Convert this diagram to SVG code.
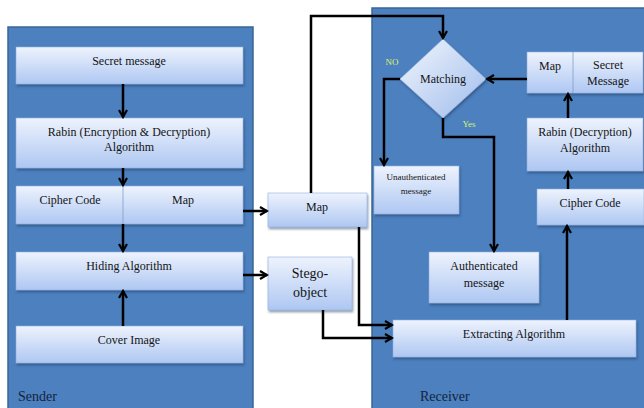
<svg xmlns="http://www.w3.org/2000/svg" width="644" height="408" viewBox="0 0 644 408" font-family="'Liberation Serif', 'Times New Roman', Times, serif">
<defs>
<linearGradient id="g" x1="0" y1="0" x2="0" y2="1">
<stop offset="0" stop-color="#eef3fd"/>
<stop offset="1" stop-color="#aec7f2"/>
</linearGradient>
<linearGradient id="gd" x1="0" y1="0" x2="1" y2="1">
<stop offset="0" stop-color="#f2f6fd"/>
<stop offset="1" stop-color="#9fbcec"/>
</linearGradient>
<filter id="sh" x="-10%" y="-10%" width="120%" height="130%">
<feDropShadow dx="1" dy="2" stdDeviation="1" flood-color="#1c3558" flood-opacity="0.5"/>
</filter>
<marker id="ah" markerWidth="10" markerHeight="10" refX="8" refY="5" orient="auto" markerUnits="userSpaceOnUse">
<polyline points="1,1 8,5 1,9" fill="none" stroke="#000" stroke-width="2.2"/>
</marker>
<style>
.panel{fill:#4c80bf;stroke:#3a6596;stroke-width:1.5}
.box{fill:url(#g);stroke:#8fb0dc;stroke-width:0.6;filter:url(#sh)}
.div{stroke:#7f9fcc;stroke-width:0.8}
text{font-size:12px;fill:#141414;text-anchor:middle}
.small{font-size:9px}
.lab{font-size:14px;text-anchor:start;fill:#15243a}
.yn{font-size:9px;fill:#d8f56a}
.c{fill:none;stroke:#000;stroke-width:2.5;marker-end:url(#ah)}
</style>
</defs>
<rect x="0" y="0" width="644" height="408" fill="#ffffff"/>
<g id="sender-panel">
<rect class="panel" x="8" y="27" width="245" height="390"/>
<text class="lab" x="18" y="401">Sender</text>
</g>
<g id="receiver-panel">
<rect class="panel" x="372" y="8" width="280" height="410"/>
<text class="lab" x="420" y="401">Receiver</text>
</g>
<g id="secret-message">
<rect class="box" x="16" y="47" width="227" height="37"/>
<text x="129" y="65">Secret message</text>
</g>
<g id="rabin-enc">
<rect class="box" x="16" y="118" width="227" height="50"/>
<text x="129" y="136">Rabin (Encryption &amp; Decryption)</text>
<text x="129" y="151">Algorithm</text>
</g>
<g id="cipher-map">
<rect class="box" x="16" y="186" width="227" height="38"/>
<line class="div" x1="123" y1="186" x2="123" y2="224"/>
<text x="70" y="204">Cipher Code</text>
<text x="183" y="204">Map</text>
</g>
<g id="hiding">
<rect class="box" x="16" y="252" width="227" height="38"/>
<text x="129" y="270">Hiding Algorithm</text>
</g>
<g id="cover">
<rect class="box" x="16" y="326" width="227" height="37"/>
<text x="129" y="344">Cover Image</text>
</g>
<g id="map-mid">
<rect class="box" x="268" y="193" width="99" height="34"/>
<text x="317" y="211">Map</text>
</g>
<g id="stego">
<rect class="box" x="268" y="257" width="84" height="53"/>
<text x="310" y="278" style="font-size:14px">Stego-</text>
<text x="310" y="297" style="font-size:14px">object</text>
</g>
<g id="matching">
<polygon points="443,39 486,79 443,118 400,79" fill="url(#gd)" stroke="#8fb0dc" stroke-width="0.6" filter="url(#sh)"/>
<text x="443" y="83">Matching</text>
</g>
<g id="map-secret">
<rect class="box" x="527" y="52" width="116" height="41"/>
<line class="div" x1="573" y1="52" x2="573" y2="93"/>
<text x="550" y="70">Map</text>
<text x="608" y="69">Secret</text>
<text x="608" y="85">Message</text>
</g>
<g id="rabin-dec">
<rect class="box" x="527" y="118" width="116" height="53"/>
<text x="585" y="136">Rabin (Decryption)</text>
<text x="585" y="152">Algorithm</text>
</g>
<g id="cipher-rec">
<rect class="box" x="537" y="189" width="107" height="36"/>
<text x="590" y="207">Cipher Code</text>
</g>
<g id="unauth">
<rect class="box" x="374" y="166" width="85" height="48"/>
<text class="small" x="416" y="180">Unauthenticated</text>
<text class="small" x="416" y="194">message</text>
</g>
<g id="auth">
<rect class="box" x="429" y="252" width="110" height="51"/>
<text x="484" y="270">Authenticated</text>
<text x="484" y="287">message</text>
</g>
<g id="extracting">
<rect class="box" x="393" y="320" width="243" height="37"/>
<text x="514" y="338">Extracting Algorithm</text>
</g>
<g id="connectors">
<line class="c" x1="123" y1="84" x2="123" y2="117"/>
<line class="c" x1="123" y1="168" x2="123" y2="185"/>
<line class="c" x1="123" y1="224" x2="123" y2="251"/>
<line class="c" x1="123" y1="326" x2="123" y2="291"/>
<line class="c" x1="243" y1="211" x2="267" y2="211"/>
<line class="c" x1="243" y1="275" x2="267" y2="275"/>
<polyline class="c" points="311,193 311,16 443,16 443,38"/>
<polyline class="c" points="359,227 359,325 392,325"/>
<polyline class="c" points="323,310 323,338 392,338"/>
<line class="c" x1="527" y1="79" x2="487" y2="79"/>
<line class="c" x1="568" y1="118" x2="568" y2="94"/>
<line class="c" x1="568" y1="189" x2="568" y2="172"/>
<line class="c" x1="567" y1="320" x2="567" y2="226"/>
<polyline class="c" points="400,79 384,79 384,165"/>
<polyline class="c" points="443,118 443,137 494,137 494,251"/>
<text class="yn" x="392" y="65">NO</text>
<text class="yn" x="469" y="127">Yes</text>
</g>
</svg>
